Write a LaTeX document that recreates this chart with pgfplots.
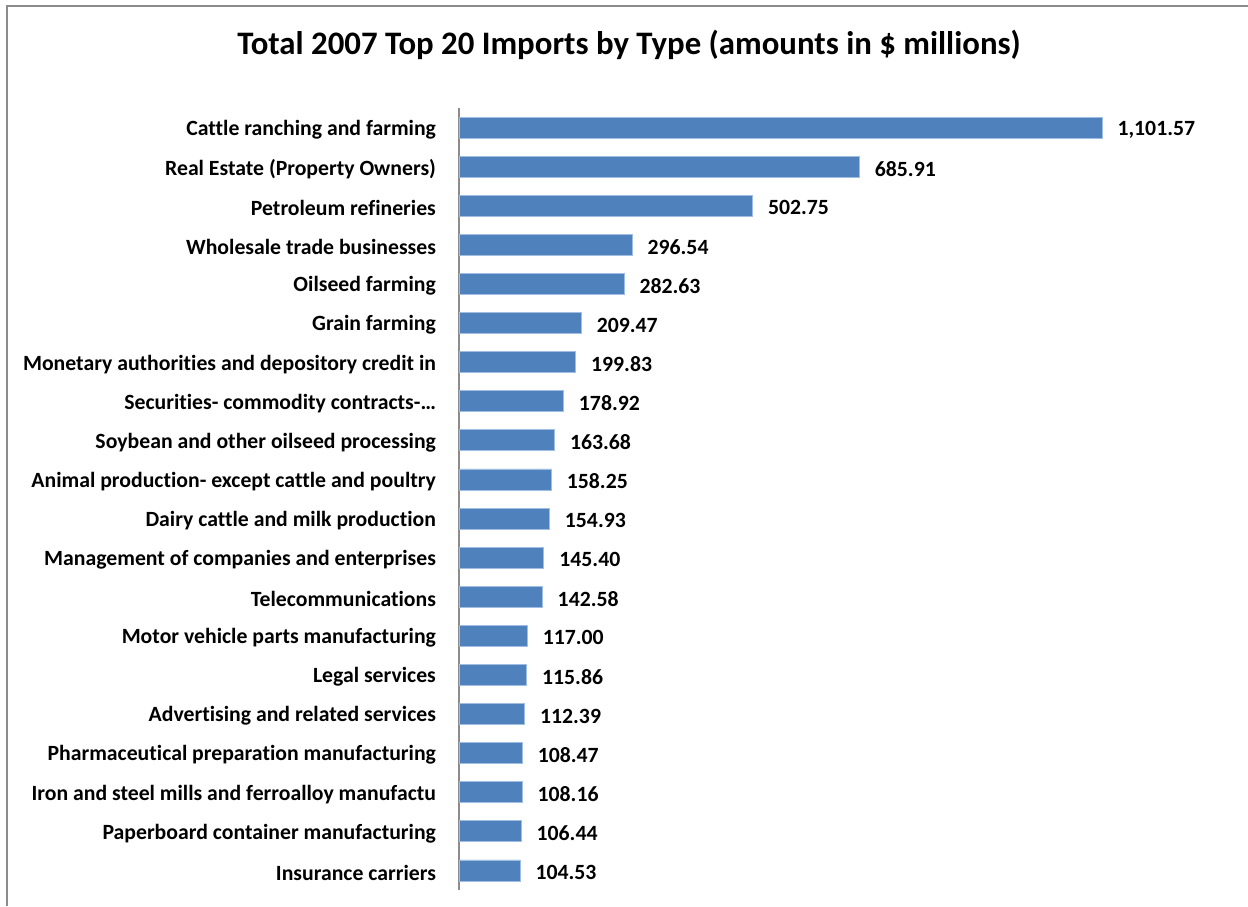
\documentclass[border=0pt]{standalone}
\usepackage{fontspec}
\setmainfont{Carlito}[Ligatures=NoCommon]
\usepackage{pgfplots}
\pgfplotsset{compat=1.18}
\definecolor{barblue}{RGB}{79,129,189}
\definecolor{baredge}{RGB}{160,190,225}
\definecolor{frame}{RGB}{140,140,140}
\begin{document}
\begin{tikzpicture}
\useasboundingbox (0,0) rectangle (936pt,679.5pt);
\draw[frame, line width=1pt] (5.25pt,0) -- (5.25pt,675pt) -- (936pt,675pt);
\node[font=\fontsize{24.6}{28}\selectfont\bfseries] at (471.75pt,646pt)
  {Total 2007 Top 20 Imports by Type (amounts in \$ millions)};
\begin{axis}[
  at={(344.25pt,12pt)}, anchor=south west,
  scale only axis, width=525.4pt, height=586.5pt,
  xbar, bar width=15.75pt,
  xmin=0, xmax=1200,
  ymin=-0.5, ymax=19.5, y dir=reverse,
  axis x line=none,
  axis y line*=left,
  axis line style={draw=frame, line width=1pt, -},
  ytick={0,...,19},
  ytick style={draw=none},
  yticklabel style={font=\fontsize{16.3}{19}\selectfont\bfseries, xshift=-9.5pt, yshift=-1.5pt},
  yticklabels={
    Cattle ranching and farming,
    Real Estate (Property Owners),
    Petroleum refineries,
    Wholesale trade businesses,
    Oilseed farming,
    Grain farming,
    Monetary authorities and depository credit in,
    Securities- commodity contracts-…,
    Soybean and other oilseed processing,
    Animal production- except cattle and poultry,
    Dairy cattle and milk production,
    Management of companies and enterprises,
    Telecommunications,
    Motor vehicle parts manufacturing,
    Legal services,
    Advertising and related services,
    Pharmaceutical preparation manufacturing,
    Iron and steel mills and ferroalloy manufactu,
    Paperboard container manufacturing,
    Insurance carriers},
  nodes near coords,
  nodes near coords align={horizontal},
  every node near coord/.append style={font=\fontsize{16.3}{19}\selectfont\bfseries, anchor=west, xshift=8pt, yshift=-1.5pt, black},
  /pgf/number format/.cd, fixed, fixed zerofill, precision=2, 1000 sep={,}, assume math mode=true,
]
\addplot[fill=barblue, draw=baredge, line width=0.6pt] coordinates {
  (1101.57,0) (685.91,1) (502.75,2) (296.54,3) (282.63,4)
  (209.47,5) (199.83,6) (178.92,7) (163.68,8) (158.25,9)
  (154.93,10) (145.40,11) (142.58,12) (117.00,13) (115.86,14)
  (112.39,15) (108.47,16) (108.16,17) (106.44,18) (104.53,19)
};
\end{axis}
\end{tikzpicture}
\end{document}
